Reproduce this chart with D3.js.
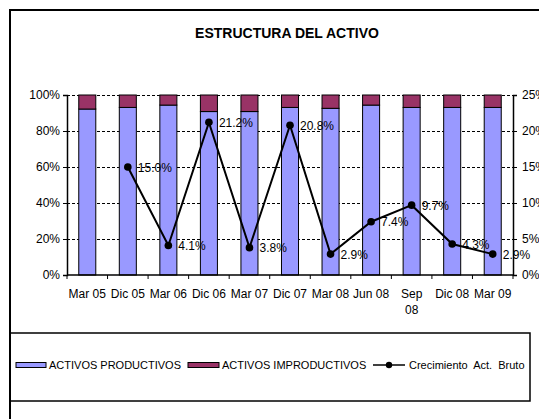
<!DOCTYPE html>
<html><head><meta charset="utf-8">
<script src="https://cdn.jsdelivr.net/npm/d3@7"></script>
<style>body{margin:0;background:#fff}svg{display:block;font-family:"Liberation Sans",Arial,sans-serif}</style>
</head><body><svg id="c" width="539" height="419"></svg>
<script>
const categories = ["Mar 05","Dic 05","Mar 06","Dic 06","Mar 07","Dic 07","Mar 08","Jun 08","Sep 08","Dic 08","Mar 09"];
const productivos = [92.2, 93.1, 94.4, 90.8, 90.8, 93.1, 92.6, 94.4, 93.1, 93.1, 93.1];
const improductivos = productivos.map(v => +(100 - v).toFixed(1));
const crecimiento = [null, 15.0, 4.1, 21.2, 3.8, 20.8, 2.9, 7.4, 9.7, 4.3, 2.9];
const leftTicks = [0, 20, 40, 60, 80, 100];
const rightTicks = [0, 5, 10, 15, 20, 25];
const title = "ESTRUCTURA DEL ACTIVO";
const legendLabels = ["ACTIVOS PRODUCTIVOS", "ACTIVOS IMPRODUCTIVOS", "Crecimiento  Act.  Bruto"];

const svg = d3.select("#c");
const m = {l: 67, r: 513, t: 95, b: 275};

// outer frame
svg.append("rect").attr("x",10).attr("y",10).attr("width",700).attr("height",700)
  .attr("fill","none").attr("stroke","#000").attr("stroke-width",2);

svg.append("text").attr("x",287).attr("y",38).attr("text-anchor","middle")
  .attr("font-size",14).attr("font-weight","bold").text(title);

const x = d3.scaleBand().domain(categories).range([m.l, m.r]).paddingInner(0.58).paddingOuter(0.29);
const xStep = d3.scaleBand().domain(categories).range([m.l, m.r]);
const yL = d3.scaleLinear().domain([0,100]).range([m.b, m.t]);
const yR = d3.scaleLinear().domain([0,25]).range([m.b, m.t]);

// gridlines
svg.append("g").selectAll("line").data(leftTicks.filter(d=>d>0)).join("line")
  .attr("x1",m.l).attr("x2",m.r).attr("y1",d=>yL(d)+0.5).attr("y2",d=>yL(d)+0.5)
  .attr("stroke","#000").attr("stroke-width",1).attr("stroke-dasharray","3,2");

// bars
const g = svg.append("g");
categories.forEach((c,i) => {
  g.append("rect").attr("x",x(c)).attr("width",x.bandwidth())
    .attr("y",yL(productivos[i])).attr("height",yL(0)-yL(productivos[i]))
    .attr("fill","#9999FF").attr("stroke","#000").attr("stroke-width",1);
  g.append("rect").attr("x",x(c)).attr("width",x.bandwidth())
    .attr("y",yL(100)).attr("height",yL(100-improductivos[i])-yL(100))
    .attr("fill","#993366").attr("stroke","#000").attr("stroke-width",1);
});

// axes
const axL = svg.append("g").attr("transform",`translate(${m.l},0)`)
  .call(d3.axisLeft(yL).tickValues(leftTicks).tickFormat(d=>d+"%").tickSize(4).tickPadding(3));
const axR = svg.append("g").attr("transform",`translate(${m.r},0)`)
  .call(d3.axisRight(yR).tickValues(rightTicks).tickFormat(d=>d+"%").tickSize(4).tickPadding(5));
[axL, axR].forEach(a => {
  a.select(".domain").attr("stroke","#000").attr("stroke-width",1.5);
  a.selectAll("text").attr("font-size",12).attr("font-family","Liberation Sans, Arial").attr("fill","#000");
});
// x axis
const axX = svg.append("g").attr("transform",`translate(0,${m.b})`);
axX.append("line").attr("x1",m.l).attr("x2",m.r).attr("stroke","#000").attr("stroke-width",1.5);
const bounds = categories.map(c=>xStep(c)).concat([m.r]);
axX.selectAll("line.t").data(bounds).join("line").attr("class","t")
  .attr("x1",d=>d).attr("x2",d=>d).attr("y1",0).attr("y2",4).attr("stroke","#000");
axX.selectAll("text").data(categories).join("text")
  .attr("text-anchor","middle").attr("font-size",12)
  .each(function(c){
    const t = d3.select(this);
    const cx = xStep(c) + xStep.bandwidth()/2;
    if (c === "Sep 08") {
      t.append("tspan").attr("x",cx).attr("y",23).text("Sep");
      t.append("tspan").attr("x",cx).attr("y",39).text("08");
    } else {
      t.attr("x",cx).attr("y",23).text(c);
    }
  });

// line
const pts = categories.map((c,i)=>({c, v: crecimiento[i]})).filter(d=>d.v!==null);
const px = d => xStep(d.c) + xStep.bandwidth()/2;
svg.append("path").datum(pts)
  .attr("d", d3.line().x(px).y(d=>yR(d.v)))
  .attr("fill","none").attr("stroke","#000").attr("stroke-width",2);
svg.append("g").selectAll("circle").data(pts).join("circle")
  .attr("cx",px).attr("cy",d=>yR(d.v)).attr("r",3.8).attr("fill","#000");
svg.append("g").selectAll("text").data(pts).join("text")
  .attr("x",d=>px(d)+10).attr("y",d=>yR(d.v)+4.5).attr("font-size",12)
  .text(d=>d.v.toFixed(1)+"%");

// legend
const lg = svg.append("g");
lg.append("rect").attr("x",10).attr("y",333).attr("width",520).attr("height",68)
  .attr("fill","none").attr("stroke","#000").attr("stroke-width",1.5);
const ly = 365;
lg.append("rect").attr("x",16).attr("y",ly-2.5).attr("width",30).attr("height",5)
  .attr("fill","#9999FF").attr("stroke","#000");
lg.append("text").attr("x",49).attr("y",ly+4).attr("font-size",11).text(legendLabels[0]);
lg.append("rect").attr("x",188).attr("y",ly-2.5).attr("width",31).attr("height",5)
  .attr("fill","#993366").attr("stroke","#000");
lg.append("text").attr("x",222).attr("y",ly+4).attr("font-size",11).text(legendLabels[1]);
lg.append("line").attr("x1",373).attr("x2",405).attr("y1",ly).attr("y2",ly).attr("stroke","#000").attr("stroke-width",1.5);
lg.append("circle").attr("cx",389).attr("cy",ly).attr("r",3.2).attr("fill","#000");
lg.append("text").attr("x",409).attr("y",ly+4).attr("font-size",11).style("white-space","pre").text(legendLabels[2]);
</script></body></html>
